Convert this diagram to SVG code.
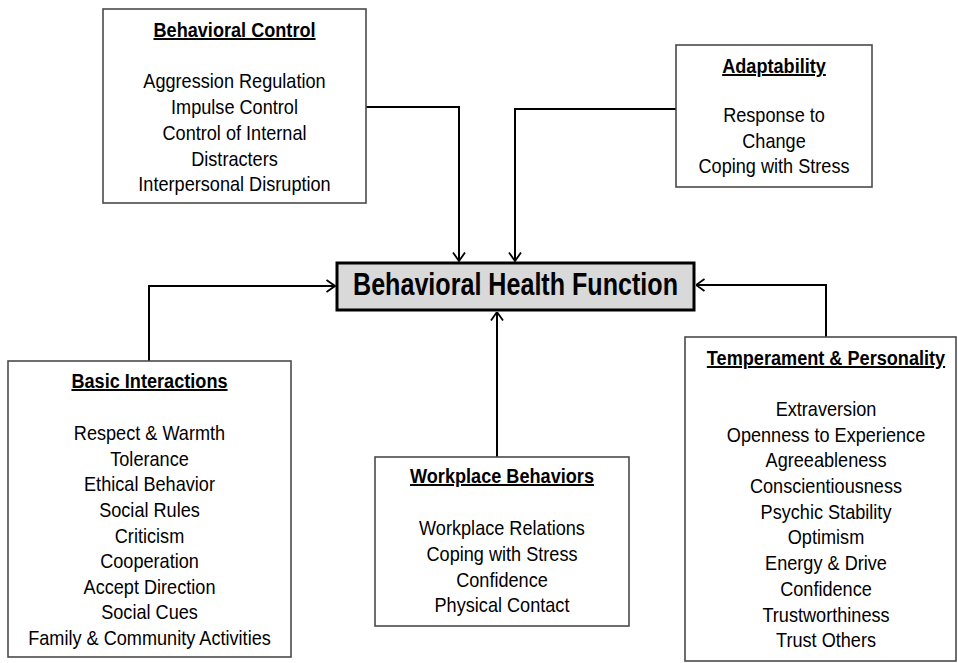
<svg xmlns="http://www.w3.org/2000/svg" width="958" height="663" viewBox="0 0 958 663">
<defs>
<style>
.box{fill:#fff;stroke:#4a4a4a;stroke-width:1.6}
.main{fill:#d9d9d9;stroke:#000;stroke-width:3}
.t{font-family:"Liberation Sans",Arial,sans-serif;font-size:19.5px;fill:#000;text-anchor:middle}
.h{font-weight:bold;text-decoration:underline}
.conn{fill:none;stroke:#000;stroke-width:2}
</style>
<marker id="arr" viewBox="0 0 10 14" refX="9.5" refY="7" markerWidth="10" markerHeight="14" markerUnits="userSpaceOnUse" orient="auto">
<path d="M1,1 L9.5,7 L1,13" fill="none" stroke="#000" stroke-width="1.8"/>
</marker>
</defs>
<rect width="958" height="663" fill="#fff"/>

<g id="connectors">
<path class="conn" d="M366,107 H459 V261" marker-end="url(#arr)"/>
<path class="conn" d="M676,109 H515 V261" marker-end="url(#arr)"/>
<path class="conn" d="M149,361 V286 H335" marker-end="url(#arr)"/>
<path class="conn" d="M826,337 V285 H696" marker-end="url(#arr)"/>
<path class="conn" d="M497,457 V312" marker-end="url(#arr)"/>
</g>

<g id="behavioral-health-function">
<rect class="main" x="337" y="263" width="357" height="47"/>
<text x="515.5" y="295" font-family="'Liberation Sans',Arial,sans-serif" font-size="32" font-weight="bold" fill="#000" text-anchor="middle" textLength="325" lengthAdjust="spacingAndGlyphs">Behavioral Health Function</text>
</g>

<g id="behavioral-control">
<rect class="box" x="103" y="9" width="263" height="194"/>
<g transform="translate(234.5 0) scale(0.93 1)">
<text class="t h" x="0" y="37">Behavioral Control</text>
<text class="t" x="0" y="88">Aggression Regulation</text>
<text class="t" x="0" y="114">Impulse Control</text>
<text class="t" x="0" y="140">Control of Internal</text>
<text class="t" x="0" y="166">Distracters</text>
<text class="t" x="0" y="191">Interpersonal Disruption</text>
</g>
</g>

<g id="adaptability">
<rect class="box" x="676" y="45" width="196" height="142"/>
<g transform="translate(774 0) scale(0.93 1)">
<text class="t h" x="0" y="73">Adaptability</text>
<text class="t" x="0" y="122">Response to</text>
<text class="t" x="0" y="148">Change</text>
<text class="t" x="0" y="173">Coping with Stress</text>
</g>
</g>

<g id="basic-interactions">
<rect class="box" x="8" y="361" width="283" height="296"/>
<g transform="translate(149.5 0) scale(0.93 1)">
<text class="t h" x="0" y="388">Basic Interactions</text>
<text class="t" x="0" y="440">Respect &amp; Warmth</text>
<text class="t" x="0" y="466">Tolerance</text>
<text class="t" x="0" y="491">Ethical Behavior</text>
<text class="t" x="0" y="517">Social Rules</text>
<text class="t" x="0" y="543">Criticism</text>
<text class="t" x="0" y="568">Cooperation</text>
<text class="t" x="0" y="594">Accept Direction</text>
<text class="t" x="0" y="619">Social Cues</text>
<text class="t" x="0" y="645">Family &amp; Community Activities</text>
</g>
</g>

<g id="workplace-behaviors">
<rect class="box" x="375" y="457" width="254" height="169"/>
<g transform="translate(502 0) scale(0.93 1)">
<text class="t h" x="0" y="483">Workplace Behaviors</text>
<text class="t" x="0" y="535">Workplace Relations</text>
<text class="t" x="0" y="561">Coping with Stress</text>
<text class="t" x="0" y="587">Confidence</text>
<text class="t" x="0" y="612">Physical Contact</text>
</g>
</g>

<g id="temperament-personality">
<rect class="box" x="685" y="337" width="271" height="324"/>
<g transform="translate(826 0) scale(0.93 1)">
<text class="t h" x="0" y="365">Temperament &amp; Personality</text>
<text class="t" x="0" y="416">Extraversion</text>
<text class="t" x="0" y="442">Openness to Experience</text>
<text class="t" x="0" y="467">Agreeableness</text>
<text class="t" x="0" y="493">Conscientiousness</text>
<text class="t" x="0" y="519">Psychic Stability</text>
<text class="t" x="0" y="544">Optimism</text>
<text class="t" x="0" y="570">Energy &amp; Drive</text>
<text class="t" x="0" y="596">Confidence</text>
<text class="t" x="0" y="622">Trustworthiness</text>
<text class="t" x="0" y="647">Trust Others</text>
</g>
</g>
</svg>
